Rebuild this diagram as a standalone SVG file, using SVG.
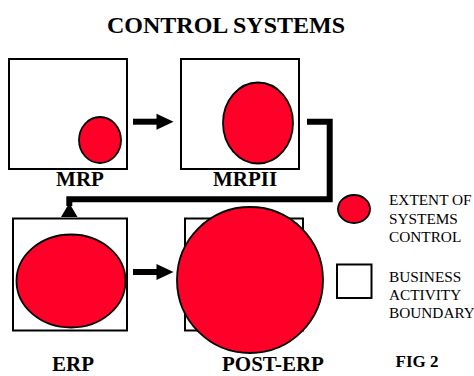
<svg xmlns="http://www.w3.org/2000/svg" width="474" height="376" viewBox="0 0 474 376">
  <style>
    .box { fill: #ffffff; stroke: #000; stroke-width: 2; }
    .ctl { fill: #ff0028; stroke: #000; stroke-width: 1.8; }
    .lbl { font-family: 'Liberation Serif', 'DejaVu Serif', serif; font-weight: bold; font-size: 21px; fill: #000; text-anchor: middle; }
    .title { font-size: 24px; }
    .fig { font-size: 17px; }
    .leg { font-family: 'Liberation Serif', 'DejaVu Serif', serif; font-size: 15.3px; fill: #000; }
    .flow { fill: none; stroke: #000; stroke-width: 6; }
  </style>
  <defs>
    <polygon id="head" points="0,-8 17,0 0,8" fill="#000"/>
  </defs>
  <rect width="474" height="376" fill="#fff"/>

  <text x="226" y="33" class="lbl title">CONTROL SYSTEMS</text>

  <g id="mrp">
    <rect class="box" x="9" y="59" width="118" height="110"/>
    <ellipse class="ctl" cx="100" cy="140" rx="21" ry="23"/>
    <text x="80" y="186" class="lbl">MRP</text>
  </g>

  <g id="mrpii">
    <rect class="box" x="181" y="59" width="118" height="110"/>
    <ellipse class="ctl" cx="258" cy="123" rx="35" ry="40.5"/>
    <text x="245" y="186" class="lbl">MRPII</text>
  </g>

  <g id="erp">
    <rect class="box" x="13" y="218.5" width="114" height="112"/>
    <ellipse class="ctl" cx="71" cy="281" rx="54.5" ry="46.5"/>
    <text x="73" y="371" class="lbl">ERP</text>
  </g>

  <g id="post-erp">
    <rect class="box" x="185" y="218.5" width="118" height="112"/>
    <circle class="ctl" cx="250" cy="280" r="73"/>
    <text x="273" y="371" class="lbl">POST-ERP</text>
  </g>

  <g id="connectors">
    <line class="flow" x1="133" y1="121.7" x2="158" y2="121.7"/>
    <use href="#head" x="156.5" y="121.7"/>
    <line class="flow" x1="133" y1="272" x2="158" y2="272"/>
    <use href="#head" x="156.5" y="272"/>
    <path class="flow" d="M307,121.7 H329.7 V199.3 H69.3 V206"/>
    <polygon points="69.3,203 61,217 77.5,217" fill="#000"/>
  </g>

  <g id="legend">
    <ellipse class="ctl" cx="354" cy="209" rx="16" ry="14"/>
    <text class="leg" x="389" y="205">EXTENT OF</text>
    <text class="leg" x="389" y="223.5">SYSTEMS</text>
    <text class="leg" x="389" y="241.5">CONTROL</text>
    <rect class="box" x="337" y="264.5" width="34.5" height="33.5"/>
    <text class="leg" x="389" y="282">BUSINESS</text>
    <text class="leg" x="389" y="300">ACTIVITY</text>
    <text class="leg" x="389" y="318">BOUNDARY</text>
    <text x="417" y="367" class="lbl fig">FIG 2</text>
  </g>
</svg>
